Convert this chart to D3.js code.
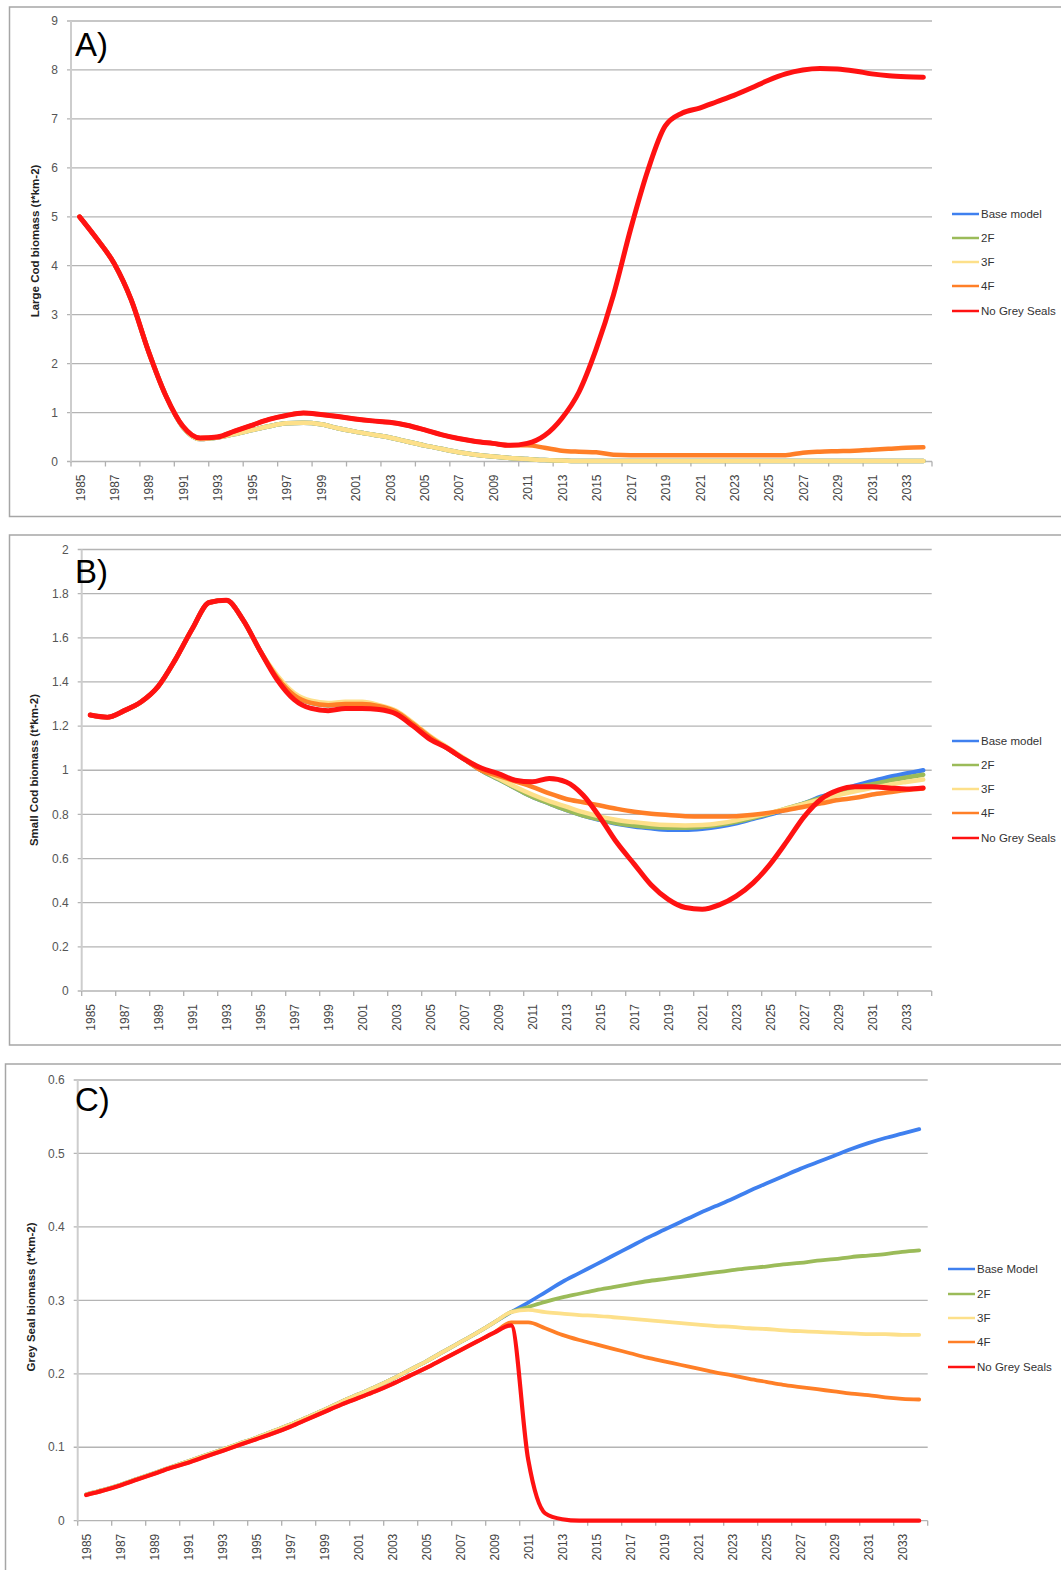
<!DOCTYPE html>
<html>
<head>
<meta charset="utf-8">
<script src="https://cdn.jsdelivr.net/npm/d3@7"></script>
<style>
body { margin: 0; background: #fff; }
text { font-family: "Liberation Sans", Arial, sans-serif; }
</style>
</head>
<body>
<svg id="chart"></svg>
<script>
var years = [1985, 1986, 1987, 1988, 1989, 1990, 1991, 1992, 1993, 1994,
    1995, 1996, 1997, 1998, 1999, 2000, 2001, 2002, 2003, 2004,
    2005, 2006, 2007, 2008, 2009, 2010, 2011, 2012, 2013, 2014,
    2015, 2016, 2017, 2018, 2019, 2020, 2021, 2022, 2023, 2024,
    2025, 2026, 2027, 2028, 2029, 2030, 2031, 2032, 2033, 2034];
var yearLabels = [1985, 1987, 1989, 1991, 1993, 1995, 1997, 1999, 2001, 2003, 2005, 2007,
    2009, 2011, 2013, 2015, 2017, 2019, 2021, 2023, 2025, 2027, 2029, 2031, 2033];

var seriesNames = ["Base model", "2F", "3F", "4F", "No Grey Seals"];
var seriesNamesC = ["Base Model", "2F", "3F", "4F", "No Grey Seals"];
var seriesColors = ["#3f80ef", "#9bbb59", "#fde08a", "#ff7f27", "#ff1212"];

// A) large cod
var largeCodTicks = [0, 1, 2, 3, 4, 5, 6, 7, 8, 9];
var largeCodBase = [5.0, 4.55, 4.05, 3.3, 2.25, 1.35, 0.70, 0.46, 0.49, 0.56,
    0.64, 0.72, 0.78, 0.79, 0.76, 0.68, 0.61, 0.55, 0.49, 0.41,
    0.33, 0.26, 0.19, 0.14, 0.10, 0.07, 0.05, 0.03, 0.02, 0.01,
    0.01, 0.01, 0.01, 0.01, 0.01, 0.01, 0.01, 0.01, 0.01, 0.01,
    0.01, 0.01, 0.01, 0.01, 0.01, 0.01, 0.01, 0.01, 0.01, 0.01];
var largeCod2F = [5.0, 4.55, 4.05, 3.3, 2.25, 1.35, 0.70, 0.46, 0.49, 0.56,
    0.64, 0.72, 0.78, 0.79, 0.76, 0.68, 0.61, 0.55, 0.49, 0.41,
    0.33, 0.26, 0.19, 0.14, 0.10, 0.07, 0.05, 0.03, 0.02, 0.01,
    0.01, 0.01, 0.01, 0.01, 0.01, 0.01, 0.01, 0.01, 0.01, 0.01,
    0.01, 0.01, 0.01, 0.01, 0.01, 0.01, 0.01, 0.01, 0.01, 0.01];
var largeCod3F = [5.0, 4.55, 4.05, 3.3, 2.25, 1.35, 0.70, 0.46, 0.49, 0.56,
    0.64, 0.72, 0.78, 0.79, 0.76, 0.68, 0.61, 0.55, 0.49, 0.41,
    0.33, 0.26, 0.19, 0.14, 0.10, 0.07, 0.05, 0.03, 0.02, 0.01,
    0.01, 0.01, 0.01, 0.01, 0.01, 0.01, 0.01, 0.01, 0.01, 0.01,
    0.01, 0.01, 0.01, 0.01, 0.01, 0.01, 0.01, 0.01, 0.01, 0.01];
var largeCod4F = [5.0, 4.55, 4.05, 3.3, 2.25, 1.35, 0.72, 0.48, 0.5, 0.62,
    0.74, 0.86, 0.94, 0.99, 0.96, 0.92, 0.87, 0.83, 0.80, 0.74,
    0.65, 0.55, 0.47, 0.41, 0.37, 0.33, 0.33, 0.28, 0.22, 0.20,
    0.19, 0.14, 0.13, 0.13, 0.13, 0.13, 0.13, 0.13, 0.13, 0.13,
    0.13, 0.13, 0.18, 0.20, 0.21, 0.22, 0.24, 0.26, 0.28, 0.29];
var largeCodNoSeals = [5.0, 4.55, 4.05, 3.3, 2.25, 1.35, 0.72, 0.48, 0.5, 0.62,
    0.74, 0.86, 0.94, 0.99, 0.96, 0.92, 0.87, 0.83, 0.80, 0.74,
    0.65, 0.55, 0.47, 0.41, 0.37, 0.33, 0.37, 0.53, 0.88, 1.42,
    2.3, 3.4, 4.75, 5.95, 6.85, 7.12, 7.22, 7.35, 7.48, 7.63,
    7.79, 7.92, 8.0, 8.03, 8.02, 7.98, 7.92, 7.88, 7.86, 7.85];

// B) small cod
var smallCodTicks = [0, 0.2, 0.4, 0.6, 0.8, 1, 1.2, 1.4, 1.6, 1.8, 2];
var smallCodBase = [1.25, 1.24, 1.27, 1.31, 1.38, 1.50, 1.64, 1.76, 1.77, 1.68,
    1.54, 1.42, 1.34, 1.305, 1.295, 1.30, 1.30, 1.29, 1.265, 1.21,
    1.15, 1.10, 1.05, 1.00, 0.96, 0.92, 0.88, 0.85, 0.82, 0.795,
    0.775, 0.757, 0.745, 0.737, 0.731, 0.73, 0.735, 0.745, 0.76, 0.78,
    0.80, 0.825, 0.85, 0.88, 0.905, 0.93, 0.95, 0.97, 0.985, 1.0];
var smallCod2F = [1.25, 1.24, 1.27, 1.31, 1.38, 1.50, 1.64, 1.76, 1.77, 1.68,
    1.54, 1.42, 1.34, 1.305, 1.295, 1.30, 1.30, 1.29, 1.265, 1.21,
    1.15, 1.10, 1.05, 1.00, 0.96, 0.92, 0.88, 0.85, 0.82, 0.795,
    0.777, 0.76, 0.75, 0.743, 0.74, 0.74, 0.744, 0.753, 0.767, 0.785,
    0.805, 0.828, 0.85, 0.875, 0.898, 0.92, 0.937, 0.953, 0.967, 0.98];
var smallCod3F = [1.25, 1.24, 1.27, 1.31, 1.38, 1.50, 1.64, 1.76, 1.77, 1.68,
    1.54, 1.43, 1.35, 1.315, 1.305, 1.31, 1.31, 1.295, 1.27, 1.215,
    1.155, 1.105, 1.055, 1.005, 0.965, 0.925, 0.89, 0.86, 0.835, 0.81,
    0.79, 0.775, 0.765, 0.757, 0.752, 0.75, 0.752, 0.76, 0.773, 0.79,
    0.807, 0.827, 0.848, 0.868, 0.888, 0.905, 0.92, 0.935, 0.947, 0.958];
var smallCod4F = [1.25, 1.24, 1.27, 1.31, 1.38, 1.50, 1.64, 1.76, 1.77, 1.68,
    1.54, 1.42, 1.34, 1.305, 1.295, 1.30, 1.30, 1.29, 1.265, 1.21,
    1.15, 1.10, 1.05, 1.00, 0.975, 0.95, 0.925, 0.895, 0.87, 0.855,
    0.84, 0.825, 0.812, 0.803, 0.797, 0.792, 0.79, 0.79, 0.792, 0.798,
    0.808, 0.82, 0.835, 0.85, 0.865, 0.875, 0.89, 0.9, 0.91, 0.917];
var smallCodNoSeals = [1.25, 1.24, 1.27, 1.31, 1.38, 1.50, 1.64, 1.76, 1.77, 1.68,
    1.54, 1.41, 1.32, 1.28, 1.27, 1.28, 1.28, 1.275, 1.255, 1.20,
    1.14, 1.10, 1.05, 1.01, 0.985, 0.955, 0.948, 0.963, 0.947, 0.887,
    0.785, 0.67, 0.575, 0.48, 0.415, 0.378, 0.37, 0.39, 0.43, 0.49,
    0.575, 0.68, 0.79, 0.87, 0.91, 0.925, 0.925, 0.92, 0.915, 0.92];

// C) grey seal
var sealTicks = [0, 0.1, 0.2, 0.3, 0.4, 0.5, 0.6];
var sealBase = [0.036, 0.042, 0.049, 0.057, 0.065, 0.073, 0.081, 0.089, 0.097, 0.105,
    0.113, 0.122, 0.131, 0.141, 0.151, 0.162, 0.172, 0.182, 0.193, 0.205,
    0.217, 0.230, 0.243, 0.256, 0.270, 0.284, 0.297, 0.311, 0.325, 0.337,
    0.349, 0.361, 0.373, 0.385, 0.396, 0.407, 0.418, 0.428, 0.438, 0.449,
    0.459, 0.469, 0.479, 0.488, 0.497, 0.506, 0.514, 0.521, 0.527, 0.533];
var seal2F = [0.036, 0.042, 0.049, 0.057, 0.065, 0.073, 0.081, 0.089, 0.097, 0.105,
    0.113, 0.122, 0.131, 0.141, 0.151, 0.162, 0.172, 0.182, 0.193, 0.205,
    0.217, 0.230, 0.243, 0.256, 0.270, 0.284, 0.291, 0.298, 0.304, 0.309,
    0.314, 0.318, 0.322, 0.326, 0.329, 0.332, 0.335, 0.338, 0.341, 0.344,
    0.346, 0.349, 0.351, 0.354, 0.356, 0.359, 0.361, 0.363, 0.366, 0.368];
var seal3F = [0.036, 0.042, 0.049, 0.057, 0.065, 0.073, 0.081, 0.089, 0.097, 0.105,
    0.113, 0.122, 0.131, 0.141, 0.151, 0.162, 0.172, 0.182, 0.193, 0.205,
    0.217, 0.230, 0.243, 0.256, 0.270, 0.284, 0.287, 0.284, 0.282, 0.280,
    0.279, 0.277, 0.275, 0.273, 0.271, 0.269, 0.267, 0.265, 0.264, 0.262,
    0.261, 0.259, 0.258, 0.257, 0.256, 0.255, 0.254, 0.254, 0.253, 0.253];
var seal4F = [0.035, 0.041, 0.048, 0.056, 0.064, 0.072, 0.079, 0.087, 0.095, 0.103,
    0.111, 0.119, 0.128, 0.138, 0.148, 0.158, 0.167, 0.176, 0.186, 0.197,
    0.208, 0.220, 0.232, 0.244, 0.256, 0.270, 0.270, 0.262, 0.253, 0.246,
    0.240, 0.234, 0.228, 0.222, 0.217, 0.212, 0.207, 0.202, 0.198, 0.193,
    0.189, 0.185, 0.182, 0.179, 0.176, 0.173, 0.171, 0.168, 0.166, 0.165];
var sealNoSeals = [0.035, 0.041, 0.048, 0.056, 0.064, 0.072, 0.079, 0.087, 0.095, 0.103,
    0.111, 0.119, 0.128, 0.138, 0.148, 0.158, 0.167, 0.176, 0.186, 0.197,
    0.208, 0.220, 0.232, 0.244, 0.256, 0.266, 0.083, 0.010, 0.002, 0,
    0, 0, 0, 0, 0, 0, 0, 0, 0, 0,
    0, 0, 0, 0, 0, 0, 0, 0, 0, 0];

var width = 1061, height = 1570;
var svg = d3.select("#chart")
    .attr("width", width)
    .attr("height", height);

function drawPanel(cfg) {
    var g = svg.append("g");

    // frame
    g.append("rect")
        .attr("x", cfg.box[0]).attr("y", cfg.box[1])
        .attr("width", cfg.box[2]).attr("height", cfg.box[3])
        .attr("fill", "none")
        .attr("stroke", "#a6a6a6")
        .attr("stroke-width", 1.5);

    var x = d3.scaleBand().domain(years).range([cfg.left, cfg.right]);
    var bw = x.bandwidth();
    var y = d3.scaleLinear().domain([0, cfg.max]).range([cfg.bottom, cfg.top]);

    // gridlines
    g.selectAll(".grid")
        .data(cfg.ticks)
        .enter().append("line")
        .attr("class", "grid")
        .attr("x1", cfg.left - 4).attr("x2", cfg.right)
        .attr("y1", function (d) { return y(d); })
        .attr("y2", function (d) { return y(d); })
        .attr("stroke", "#b4b4b4")
        .attr("stroke-width", 1.3);

    // y axis line
    g.append("line")
        .attr("x1", cfg.left).attr("x2", cfg.left)
        .attr("y1", cfg.top).attr("y2", cfg.bottom + 1)
        .attr("stroke", "#cdcdcd")
        .attr("stroke-width", 2);

    g.selectAll(".ylab")
        .data(cfg.ticks)
        .enter().append("text")
        .attr("class", "ylab")
        .attr("x", cfg.left - 13)
        .attr("y", function (d) { return y(d); })
        .attr("dy", "0.35em")
        .style("text-anchor", "end")
        .style("font-size", "12px")
        .style("fill", "#555")
        .text(function (d) { return String(+d.toFixed(1)); });

    // x tick marks at every second category boundary
    var tickIdx = d3.range(0, years.length + 1, 2);
    g.selectAll(".xtick")
        .data(tickIdx)
        .enter().append("line")
        .attr("class", "xtick")
        .attr("x1", function (i) { return cfg.left + i * bw; })
        .attr("x2", function (i) { return cfg.left + i * bw; })
        .attr("y1", cfg.bottom).attr("y2", cfg.bottom + 5)
        .attr("stroke", "#b0b0b0")
        .attr("stroke-width", 1.3);

    g.selectAll(".xlab")
        .data(yearLabels)
        .enter().append("text")
        .attr("class", "xlab")
        .attr("transform", function (d) {
            return "translate(" + (x(d) + bw / 2 + 5) + "," + (cfg.bottom + 13) + ") rotate(-90)";
        })
        .style("text-anchor", "end")
        .style("font-size", "12px")
        .style("fill", "#444")
        .text(function (d) { return d; });

    // series
    var line = d3.line()
        .x(function (d, i) { return x(years[i]) + bw / 2; })
        .y(function (d) { return y(d); })
        .curve(d3.curveMonotoneX);

    cfg.series.forEach(function (s, k) {
        g.append("path")
            .datum(s)
            .attr("d", line)
            .attr("fill", "none")
            .attr("stroke", seriesColors[k])
            .attr("stroke-width", k == 4 ? cfg.redWidth : cfg.lineWidth)
            .attr("stroke-linejoin", "round")
            .attr("stroke-linecap", "round");
    });

    // legend
    cfg.names.forEach(function (name, k) {
        g.append("line")
            .attr("x1", cfg.legX).attr("x2", cfg.legX + 27)
            .attr("y1", cfg.legY[k]).attr("y2", cfg.legY[k])
            .attr("stroke", seriesColors[k])
            .attr("stroke-width", 2.5);
        g.append("text")
            .attr("x", cfg.legX + 29)
            .attr("y", cfg.legY[k] + 4)
            .style("font-size", "11.5px")
            .style("fill", "#333")
            .text(name);
    });

    // y title
    g.append("text")
        .attr("transform", "translate(" + cfg.titleX + "," + cfg.titleY + ") rotate(-90)")
        .style("text-anchor", "middle")
        .style("font-size", "11.5px")
        .style("font-weight", "bold")
        .style("fill", "#222")
        .text(cfg.title);

    // panel letter
    g.append("text")
        .attr("x", 75)
        .attr("y", cfg.letterY)
        .style("font-size", "33px")
        .style("fill", "#000")
        .text(cfg.letter);
}

drawPanel({
    box: [9.5, 7, 1060, 509.5],
    left: 71, right: 932, top: 21, bottom: 461.5, max: 9,
    ticks: largeCodTicks,
    series: [largeCodBase, largeCod2F, largeCod3F, largeCod4F, largeCodNoSeals],
    names: seriesNames,
    lineWidth: 4.5, redWidth: 5,
    legX: 952, legY: [214, 238, 262, 286, 311],
    title: "Large Cod biomass (t*km-2)", titleX: 39, titleY: 241,
    letter: "A)", letterY: 56
});

drawPanel({
    box: [9.5, 535, 1060, 510],
    left: 81.7, right: 931.7, top: 549.5, bottom: 991, max: 2,
    ticks: smallCodTicks,
    series: [smallCodBase, smallCod2F, smallCod3F, smallCod4F, smallCodNoSeals],
    names: seriesNames,
    lineWidth: 4.5, redWidth: 5,
    legX: 952, legY: [741, 765, 789, 813, 838],
    title: "Small Cod biomass (t*km-2)", titleX: 38, titleY: 770,
    letter: "B)", letterY: 583
});

drawPanel({
    box: [5.5, 1064, 1060, 520],
    left: 77.7, right: 927.7, top: 1080, bottom: 1520.7, max: 0.6,
    ticks: sealTicks,
    series: [sealBase, seal2F, seal3F, seal4F, sealNoSeals],
    names: seriesNamesC,
    lineWidth: 3.8, redWidth: 4.2,
    legX: 948, legY: [1269, 1294, 1318, 1342, 1367],
    title: "Grey Seal biomass (t*km-2)", titleX: 35, titleY: 1297,
    letter: "C)", letterY: 1111
});
</script>
</body>
</html>
